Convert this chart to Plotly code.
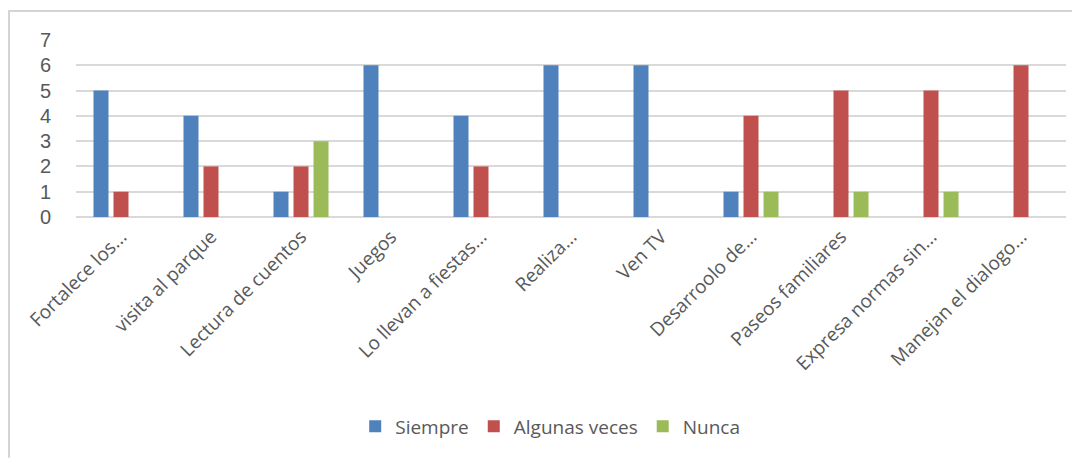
import plotly.graph_objects as go

categories = ["Fortalece los...", "visita al parque", "Lectura de cuentos", "Juegos",
              "Lo llevan a fiestas...", "Realiza...", "Ven TV", "Desarroolo de...",
              "Paseos familiares", "Expresa normas sin...", "Manejan el dialogo..."]
siempre = [5, 4, 1, 6, 4, 6, 6, 1, 0, 0, 0]
algunas = [1, 2, 2, 0, 2, 0, 0, 4, 5, 5, 6]
nunca = [0, 0, 3, 0, 0, 0, 0, 1, 1, 1, 0]

series = [("Siempre", siempre, "#4f81bd"),
          ("Algunas veces", algunas, "#c0504d"),
          ("Nunca", nunca, "#9bbb59")]

fig = go.Figure()
for name, vals, col in series:
    fig.add_trace(go.Bar(name=name, x=categories, y=vals, marker=dict(color=col, line=dict(width=0))))

fig.update_layout(
    width=1072, height=450,
    margin=dict(l=68, r=14, t=32, b=241, autoexpand=False),
    plot_bgcolor="white", paper_bgcolor="white",
    barmode="group", bargap=0.333, bargroupgap=0.25,
    font=dict(family="Open Sans", color="#595959"),
    legend=dict(orientation="h", x=0.479, xanchor="center", y=0.07, yanchor="middle",
                yref="container", font=dict(size=19, color="#595959"),
                itemwidth=30, traceorder="normal"),
    showlegend=True,
)
fig.update_yaxes(range=[0, 7], dtick=1, showgrid=True, gridcolor="#d9d9d9", gridwidth=1.5,
                 zeroline=True, zerolinecolor="#d9d9d9", zerolinewidth=1.5, automargin=False,
                 tickfont=dict(size=20, family="Liberation Sans", color="#595959"), ticklabelstandoff=24,
                 showline=False)
fig.update_xaxes(tickangle=-45, tickfont=dict(size=19, color="#595959"), showline=False,
                 showgrid=False, automargin=False, ticklabelstandoff=4)
# chart-area border (top and left edges visible in the reference)
bx = -67.0 / 990
fig.add_shape(type="rect", xref="paper", yref="paper",
              x0=-68.0 / 990, x1=1 + 14.0 / 990, y0=1 + 28.0 / 177, y1=1 + 30.0 / 177,
              line=dict(width=0), fillcolor="#d4d4d4")
fig.add_shape(type="line", xref="paper", yref="paper", x0=bx, x1=bx, y0=-1.36, y1=1 + 30.0 / 177,
              line=dict(color="#d4d4d4", width=2))
fig.write_html("out.html")
